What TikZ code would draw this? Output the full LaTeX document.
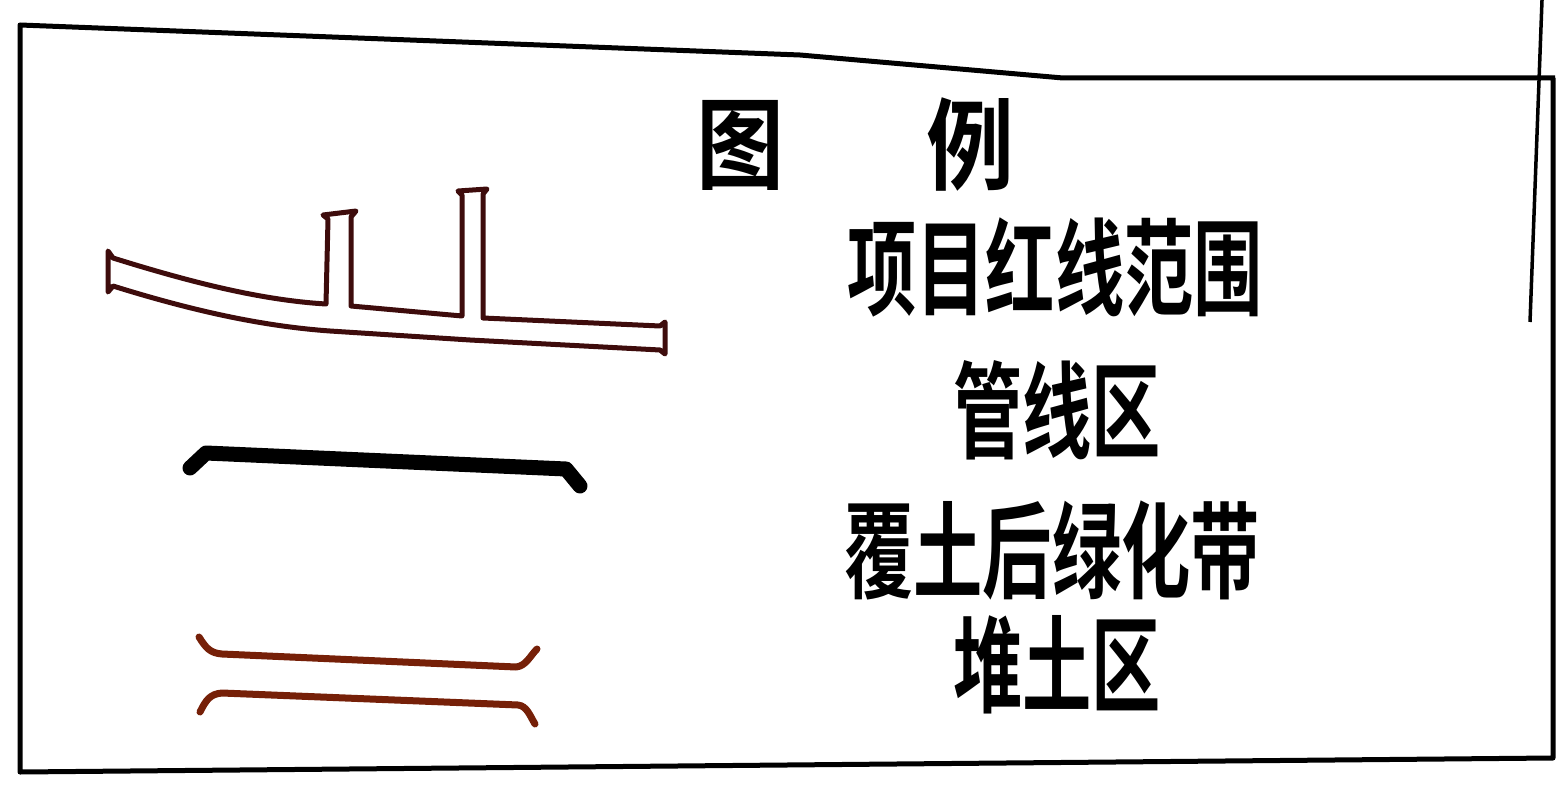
\documentclass[tikz,border=0pt]{standalone}
\usepackage{fontspec}
\usepackage{xcolor}
\usepackage{tikz}
\newfontfamily\cjktitle[FakeStretch=0.88]{Noto Sans CJK SC Bold}
\newfontfamily\cjklegend[FakeStretch=0.66]{Noto Sans CJK SC Bold}
\definecolor{redline}{RGB}{62,12,12}
\definecolor{spoil}{RGB}{118,32,8}
\tikzset{
  titletext/.style={inner sep=0pt, font=\cjktitle\fontsize{100}{100}\selectfont},
  legendtext/.style={inner sep=0pt, font=\cjklegend\fontsize{105}{105}\selectfont}
}

\begin{document}
\begin{tikzpicture}[x=1pt,y=-1pt]
\useasboundingbox (0,0) rectangle (1557,786);
\begin{scope}[line width=5pt, line join=round]
    \draw (1555,78) -- (1063,78) -- (800,55) -- (20,25) -- (20,772) -- (1553,758) -- (1553,78);
    \draw[line width=3.5pt] (1542,0) -- (1530,322);
\end{scope}

\begin{scope}[line join=round]
    \draw[redline,line width=5pt] (108,251) -- (113,258)
        .. controls (190,282) and (260,300) .. (326,304)
        -- (328,219) -- (323,215) -- (356,211) -- (351,217) -- (351,306)
        -- (462,316) -- (462,195) -- (458,191) -- (487,189) -- (483,194) -- (483,318)
        -- (660,326) -- (665,322) -- (665,354) -- (660,350)
        -- (470,340) -- (330,331)
        .. controls (260,326) and (190,310) .. (113,286) -- (108,292) -- cycle;
    \draw[line width=15pt,line cap=round] (190,468) -- (206,453) -- (566,469) -- (580,486);
    \draw[spoil,line width=7pt,line cap=round] (199,637) .. controls (206,648) and (210,653) .. (222,654)
        -- (516,667) .. controls (526,666) and (530,656) .. (537,649);
    \draw[spoil,line width=7pt,line cap=round] (200,712) .. controls (206,700) and (210,694) .. (222,693)
        -- (518,705) .. controls (527,706) and (530,716) .. (535,724);
\end{scope}

\node[titletext] (tu) at (740,145) {图};
\node[titletext] (li) at (970,145) {例};
\node[legendtext] (hongxian) at (1055,267) {项目红线范围};
\node[legendtext] (guanxian) at (1057,410) {管线区};
\node[legendtext] (lvhua) at (1052,550) {覆土后绿化带};
\node[legendtext] (duitu) at (1057,665) {堆土区};
\end{tikzpicture}
\end{document}
